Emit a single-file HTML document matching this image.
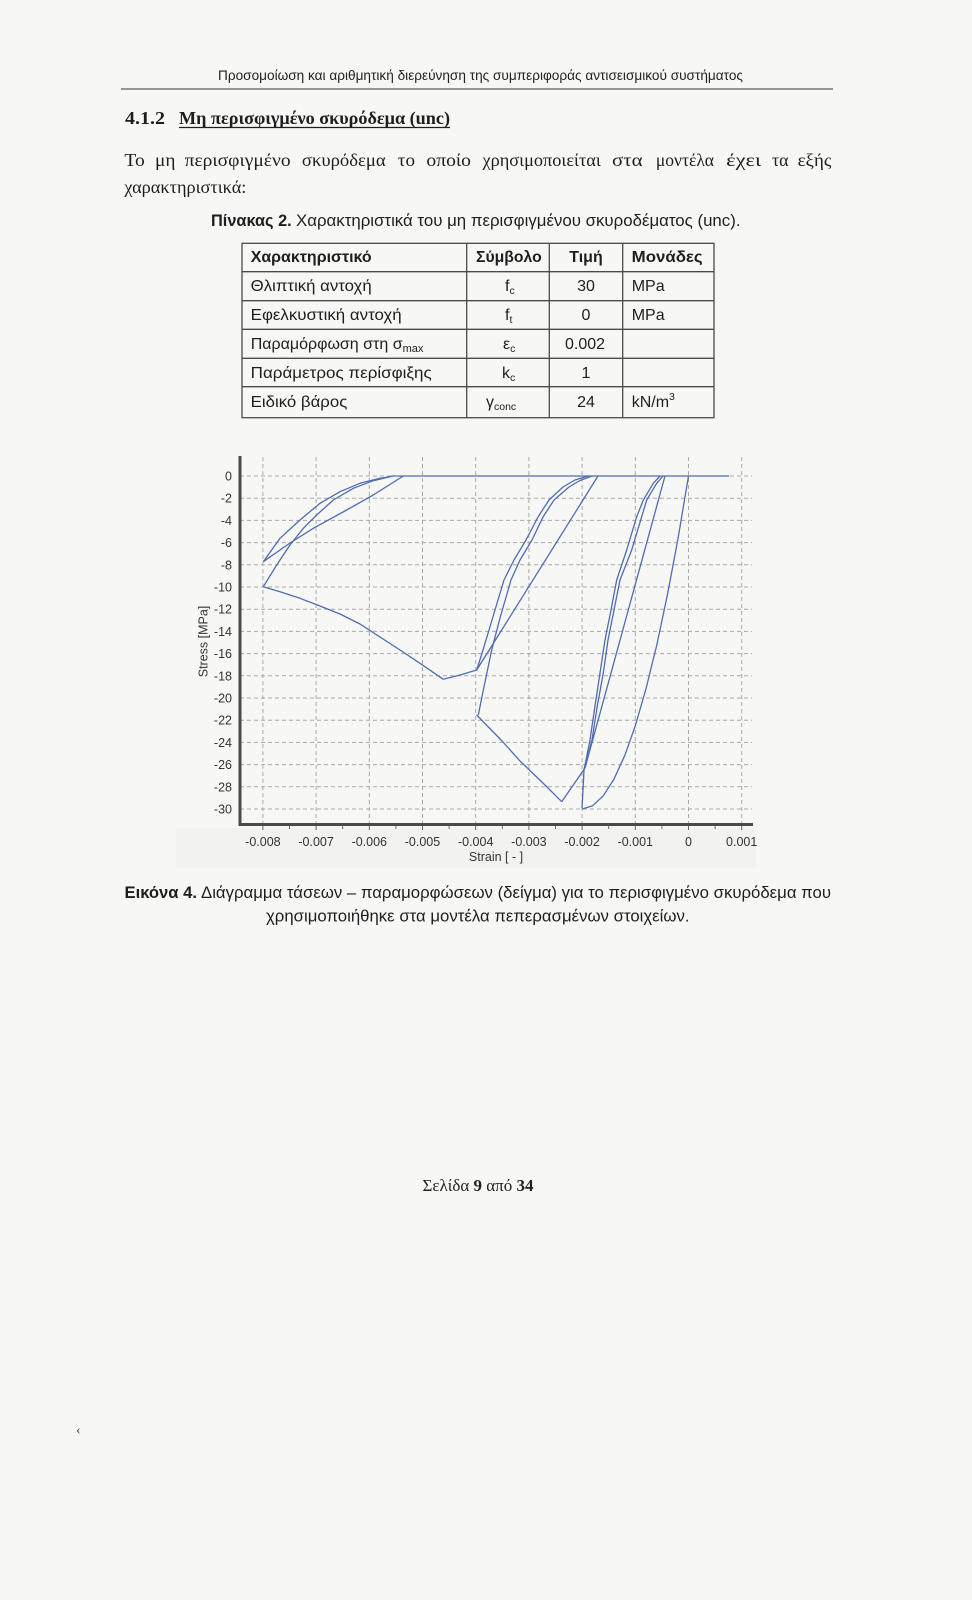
<!DOCTYPE html>
<html><head><meta charset="utf-8"><style>html,body{margin:0;padding:0;background:#f7f7f6;}svg{display:block}</style></head>
<body>
<svg width="972" height="1600" viewBox="0 0 972 1600" xmlns="http://www.w3.org/2000/svg">
<rect width="972" height="1600" fill="#f7f7f6"/>
<!-- page header -->
<text x="218" y="80" font-family="Liberation Sans, sans-serif" font-size="14" fill="#222" textLength="525" lengthAdjust="spacingAndGlyphs">Προσομοίωση και αριθμητική διερεύνηση της συμπεριφοράς αντισεισμικού συστήματος</text>
<line x1="121" y1="89" x2="833" y2="89" stroke="#333" stroke-width="1"/>
<!-- heading -->
<g font-family="Liberation Serif, serif" font-weight="bold" font-size="18" fill="#1e1e1e">
<text x="125" y="124" textLength="40" lengthAdjust="spacingAndGlyphs">4.1.2</text>
<text x="179" y="124" textLength="271" lengthAdjust="spacingAndGlyphs">Μη περισφιγμένο σκυρόδεμα (unc)</text>
</g>
<line x1="179" y1="127.5" x2="450" y2="127.5" stroke="#1e1e1e" stroke-width="1.2"/>
<!-- paragraph -->
<g font-family="Liberation Serif, serif" font-size="18" fill="#1e1e1e">
<text x="124.4" y="166" textLength="20.4" lengthAdjust="spacingAndGlyphs">Το</text>
<text x="155" y="166" textLength="20.4" lengthAdjust="spacingAndGlyphs">μη</text>
<text x="184.6" y="166" textLength="106" lengthAdjust="spacingAndGlyphs">περισφιγμένο</text>
<text x="301.9" y="166" textLength="83.7" lengthAdjust="spacingAndGlyphs">σκυρόδεμα</text>
<text x="397.8" y="166" textLength="17.2" lengthAdjust="spacingAndGlyphs">το</text>
<text x="426.4" y="166" textLength="44.6" lengthAdjust="spacingAndGlyphs">οποίο</text>
<text x="482.5" y="166" textLength="118.3" lengthAdjust="spacingAndGlyphs">χρησιμοποιείται</text>
<text x="612" y="166" textLength="30.6" lengthAdjust="spacingAndGlyphs">στα</text>
<text x="655.9" y="166" textLength="58.1" lengthAdjust="spacingAndGlyphs">μοντέλα</text>
<text x="726.2" y="166" textLength="34.8" lengthAdjust="spacingAndGlyphs">έχει</text>
<text x="772" y="166" textLength="16.5" lengthAdjust="spacingAndGlyphs">τα</text>
<text x="797.6" y="166" textLength="33.7" lengthAdjust="spacingAndGlyphs">εξής</text>
<text x="124.4" y="193" textLength="122" lengthAdjust="spacingAndGlyphs">χαρακτηριστικά:</text>
</g>
<!-- table caption -->
<g font-family="Liberation Sans, sans-serif" font-size="16.5" fill="#1e1e1e">
<text x="211" y="226" font-weight="bold" textLength="80.7" lengthAdjust="spacingAndGlyphs">Πίνακας 2.</text>
<text x="296" y="226" textLength="444.5" lengthAdjust="spacingAndGlyphs">Χαρακτηριστικά του μη περισφιγμένου σκυροδέματος (unc).</text>
</g>
<!-- table -->
<g stroke="#4a4a4a" stroke-width="1.3" fill="none">
<rect x="242" y="243.3" width="472" height="174.4"/>
<line x1="242" y1="271.7" x2="714" y2="271.7"/>
<line x1="242" y1="300.7" x2="714" y2="300.7"/>
<line x1="242" y1="329.3" x2="714" y2="329.3"/>
<line x1="242" y1="358.3" x2="714" y2="358.3"/>
<line x1="242" y1="386.7" x2="714" y2="386.7"/>
<line x1="466.7" y1="243.3" x2="466.7" y2="417.7"/>
<line x1="549.3" y1="243.3" x2="549.3" y2="417.7"/>
<line x1="622.7" y1="243.3" x2="622.7" y2="417.7"/>
</g>
<g font-family="Liberation Sans, sans-serif" font-size="16" fill="#1e1e1e">
<g font-weight="bold">
<text x="250.7" y="262" textLength="121" lengthAdjust="spacingAndGlyphs">Χαρακτηριστικό</text>
<text x="476" y="262" textLength="65.7" lengthAdjust="spacingAndGlyphs">Σύμβολο</text>
<text x="569.3" y="262" textLength="33.4" lengthAdjust="spacingAndGlyphs">Τιμή</text>
<text x="631.7" y="262" textLength="71" lengthAdjust="spacingAndGlyphs">Μονάδες</text>
</g>
<text x="250.7" y="291" textLength="121" lengthAdjust="spacingAndGlyphs">Θλιπτική αντοχή</text>
<text x="250.7" y="320" textLength="151" lengthAdjust="spacingAndGlyphs">Εφελκυστική αντοχή</text>
<text x="250.7" y="349">Παραμόρφωση στη σ<tspan font-size="11" dy="3">max</tspan></text>
<text x="250.7" y="378" textLength="181" lengthAdjust="spacingAndGlyphs">Παράμετρος περίσφιξης</text>
<text x="250.7" y="407" textLength="96.6" lengthAdjust="spacingAndGlyphs">Ειδικό βάρος</text>
<text x="505" y="291">f<tspan font-size="10.5" dy="3">c</tspan></text>
<text x="505" y="320">f<tspan font-size="10.5" dy="3">t</tspan></text>
<text x="503" y="349">ε<tspan font-size="10.5" dy="3">c</tspan></text>
<text x="502" y="378">k<tspan font-size="10.5" dy="3">c</tspan></text>
<text x="486" y="407">γ<tspan font-size="10.5" dy="3">conc</tspan></text>
<text x="586" y="291" text-anchor="middle">30</text>
<text x="586" y="320" text-anchor="middle">0</text>
<text x="585" y="349" text-anchor="middle">0.002</text>
<text x="586" y="378" text-anchor="middle">1</text>
<text x="586" y="407" text-anchor="middle">24</text>
<text x="631.7" y="291">MPa</text>
<text x="631.7" y="320">MPa</text>
<text x="631.7" y="407">kN/m<tspan font-size="10.5" dy="-7">3</tspan></text>
</g>
<!-- chart -->
<rect x="176" y="828" width="580" height="40" fill="#efefef" opacity="0.6"/>
<g stroke="#a8a8a8" stroke-width="1" stroke-dasharray="4,3" fill="none">
<line x1="240" y1="476" x2="752" y2="476"/>
<line x1="240" y1="498.2" x2="752" y2="498.2"/>
<line x1="240" y1="520.4" x2="752" y2="520.4"/>
<line x1="240" y1="542.6" x2="752" y2="542.6"/>
<line x1="240" y1="564.8" x2="752" y2="564.8"/>
<line x1="240" y1="587" x2="752" y2="587"/>
<line x1="240" y1="609.2" x2="752" y2="609.2"/>
<line x1="240" y1="631.4" x2="752" y2="631.4"/>
<line x1="240" y1="653.6" x2="752" y2="653.6"/>
<line x1="240" y1="675.8" x2="752" y2="675.8"/>
<line x1="240" y1="698" x2="752" y2="698"/>
<line x1="240" y1="720.2" x2="752" y2="720.2"/>
<line x1="240" y1="742.4" x2="752" y2="742.4"/>
<line x1="240" y1="764.6" x2="752" y2="764.6"/>
<line x1="240" y1="786.8" x2="752" y2="786.8"/>
<line x1="240" y1="809" x2="752" y2="809"/>
<line x1="262.9" y1="457" x2="262.9" y2="824"/>
<line x1="316.1" y1="457" x2="316.1" y2="824"/>
<line x1="369.3" y1="457" x2="369.3" y2="824"/>
<line x1="422.5" y1="457" x2="422.5" y2="824"/>
<line x1="475.7" y1="457" x2="475.7" y2="824"/>
<line x1="528.9" y1="457" x2="528.9" y2="824"/>
<line x1="582.1" y1="457" x2="582.1" y2="824"/>
<line x1="635.3" y1="457" x2="635.3" y2="824"/>
<line x1="688.5" y1="457" x2="688.5" y2="824"/>
<line x1="741.7" y1="457" x2="741.7" y2="824"/>
</g>
<!-- series -->
<g stroke="#4f6db0" stroke-width="1.3" fill="none" stroke-linejoin="round">
<polyline points="393,476 729,476"/>
<polyline points="688.5,476 677.9,539.3 667.2,595.9 656.6,645.8 645.9,689.1 635.3,725.8 624.7,755.7 614,779 603.4,795.7 592.7,805.7 582.1,809"/>
<polyline points="582,808 583,790 584,770 588,750 590,740 595,706 600,673 605,640 611,610 616.7,580 626.7,550 636.7,516.7 643.3,500 653.3,483.3 660,476"/>
<polyline points="584,770 588,755 592,740 597.3,706 603.3,673 608,640 614,610 620,580 631.7,550 641.7,516.7 646.7,500 656.7,483.3 663,476"/>
<polyline points="665,476 585,768 561.7,801.7"/>
<polyline points="561.7,801.7 545,785 520,761 503,742 476.7,715"/>
<polyline points="478.3,715 485,682 491.7,650 500,618 511,580 520,560 532,540 543,517 554,500 569,487 580,480.5 592,476"/>
<polyline points="476.7,670 483,650 492,620 504,580 514,560 526,540 538,517 549,500 563,487 575,480 588,476"/>
<polyline points="598,476 476.7,670 460,675 443.3,679.3"/>
<polyline points="443.3,679.3 420,663.3 400,650 380,637 360,624 340,614 320,606 300,598.3 280,591.7 263.3,586.7"/>
<polyline points="263.3,586.7 276.7,565 290,545 303.3,528.3 316.7,515 333.3,500 353.3,488.3 373.3,480.7 393.3,476"/>
<polyline points="263.3,561.7 280,538.3 300,520 320,503.3 340,491.7 360,483.3 380,478.3 393.3,476"/>
<polyline points="263.3,561.7 290,543 313.3,528.3 346.7,510 373.3,495 403.3,476"/>
</g>
<!-- axes -->
<line x1="240" y1="456" x2="240" y2="825.5" stroke="#4a4a4a" stroke-width="3"/>
<line x1="238.5" y1="824.5" x2="753" y2="824.5" stroke="#4a4a4a" stroke-width="3"/>
<g stroke="#666" stroke-width="1">
<line x1="262.9" y1="826" x2="262.9" y2="830"/><line x1="289.5" y1="826" x2="289.5" y2="829"/>
<line x1="316.1" y1="826" x2="316.1" y2="830"/><line x1="342.7" y1="826" x2="342.7" y2="829"/>
<line x1="369.3" y1="826" x2="369.3" y2="830"/><line x1="395.9" y1="826" x2="395.9" y2="829"/>
<line x1="422.5" y1="826" x2="422.5" y2="830"/><line x1="449.1" y1="826" x2="449.1" y2="829"/>
<line x1="475.7" y1="826" x2="475.7" y2="830"/><line x1="502.3" y1="826" x2="502.3" y2="829"/>
<line x1="528.9" y1="826" x2="528.9" y2="830"/><line x1="555.5" y1="826" x2="555.5" y2="829"/>
<line x1="582.1" y1="826" x2="582.1" y2="830"/><line x1="608.7" y1="826" x2="608.7" y2="829"/>
<line x1="635.3" y1="826" x2="635.3" y2="830"/><line x1="661.9" y1="826" x2="661.9" y2="829"/>
<line x1="688.5" y1="826" x2="688.5" y2="830"/><line x1="715.1" y1="826" x2="715.1" y2="829"/>
<line x1="741.7" y1="826" x2="741.7" y2="830"/>
</g>
<g font-family="Liberation Sans, sans-serif" font-size="12.5" fill="#333" text-anchor="end">
<text x="232" y="480.5">0</text>
<text x="232" y="502.7">-2</text>
<text x="232" y="524.9">-4</text>
<text x="232" y="547.1">-6</text>
<text x="232" y="569.3">-8</text>
<text x="232" y="591.5">-10</text>
<text x="232" y="613.7">-12</text>
<text x="232" y="635.9">-14</text>
<text x="232" y="658.1">-16</text>
<text x="232" y="680.3">-18</text>
<text x="232" y="702.5">-20</text>
<text x="232" y="724.7">-22</text>
<text x="232" y="746.9">-24</text>
<text x="232" y="769.1">-26</text>
<text x="232" y="791.3">-28</text>
<text x="232" y="813.5">-30</text>
</g>
<g font-family="Liberation Sans, sans-serif" font-size="12.5" fill="#333" text-anchor="middle">
<text x="262.9" y="846">-0.008</text>
<text x="316.1" y="846">-0.007</text>
<text x="369.3" y="846">-0.006</text>
<text x="422.5" y="846">-0.005</text>
<text x="475.7" y="846">-0.004</text>
<text x="528.9" y="846">-0.003</text>
<text x="582.1" y="846">-0.002</text>
<text x="635.3" y="846">-0.001</text>
<text x="688.5" y="846">0</text>
<text x="741.7" y="846">0.001</text>
<text x="496" y="861">Strain [ - ]</text>
<text transform="translate(207.5,641.5) rotate(-90)" x="0" y="0">Stress [MPa]</text>
</g>
<!-- figure caption -->
<g font-family="Liberation Sans, sans-serif" font-size="16.5" fill="#1e1e1e">
<text x="124.5" y="898" font-weight="bold" textLength="72.5" lengthAdjust="spacingAndGlyphs">Εικόνα 4.</text>
<text x="201" y="898" textLength="630" lengthAdjust="spacingAndGlyphs">Διάγραμμα τάσεων – παραμορφώσεων (δείγμα) για το περισφιγμένο σκυρόδεμα που</text>
<text x="266" y="921.5" textLength="423.5" lengthAdjust="spacingAndGlyphs">χρησιμοποιήθηκε στα μοντέλα πεπερασμένων στοιχείων.</text>
</g>
<!-- footer -->
<text x="478" y="1191" text-anchor="middle" font-family="Liberation Serif, serif" font-size="17" fill="#222">Σελίδα <tspan font-weight="bold">9</tspan> από <tspan font-weight="bold">34</tspan></text>
<text x="76" y="1434" font-family="Liberation Serif, serif" font-size="14" fill="#444">‹</text>
</svg>
</body></html>
